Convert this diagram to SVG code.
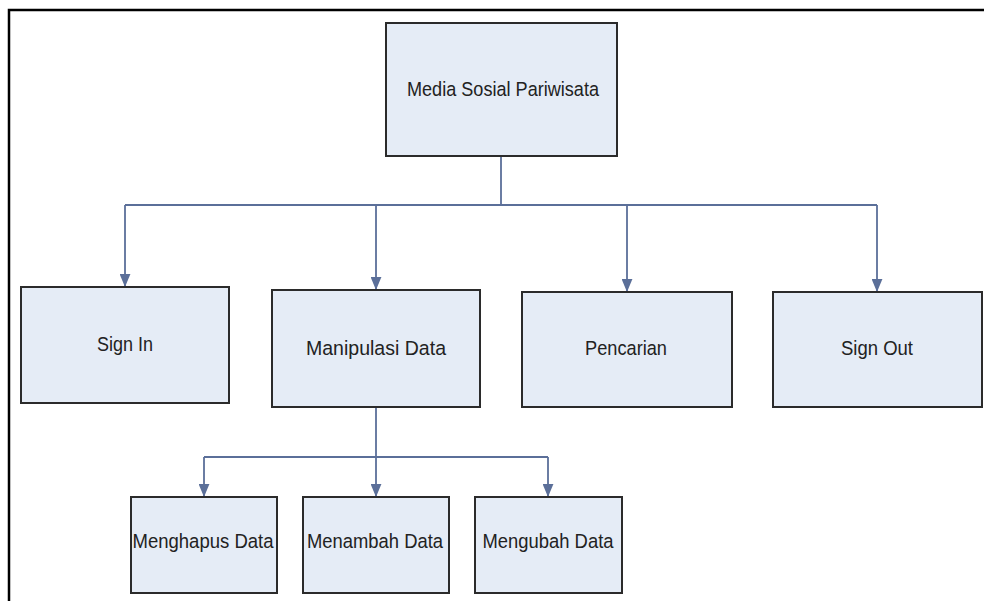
<svg xmlns="http://www.w3.org/2000/svg" width="984" height="601" viewBox="0 0 984 601">
<style>
.box{fill:#E5ECF6;stroke:#2b2b2b;stroke-width:2}
.lbl{font-family:"Liberation Sans",Arial,sans-serif;font-size:20.5px;fill:#222;text-anchor:middle}
.con{fill:none;stroke:#5B6F99;stroke-width:1.8}
</style>
<defs>
<marker id="arr" viewBox="0 0 10 12" refX="5" refY="12" markerWidth="11" markerHeight="13" orient="0" markerUnits="userSpaceOnUse">
<path d="M0,0 L10,0 L5,12 z" fill="#5B6F99"/>
</marker>
</defs>
<rect width="984" height="601" fill="#fff"/>
<path d="M9,601 V10 H984" fill="none" stroke="#000" stroke-width="2.5"/>
<g id="connectors">
<path class="con" d="M501,156 V205"/>
<path class="con" d="M125,205 H877"/>
<path class="con" d="M125,205 V287" marker-end="url(#arr)"/>
<path class="con" d="M376,205 V290" marker-end="url(#arr)"/>
<path class="con" d="M627,205 V292" marker-end="url(#arr)"/>
<path class="con" d="M877,205 V292" marker-end="url(#arr)"/>
<path class="con" d="M376,407 V457"/>
<path class="con" d="M204,457 H548"/>
<path class="con" d="M204,457 V497" marker-end="url(#arr)"/>
<path class="con" d="M376,457 V497" marker-end="url(#arr)"/>
<path class="con" d="M548,457 V497" marker-end="url(#arr)"/>
</g>
<g id="root">
<rect class="box" x="386" y="23" width="231" height="133"/>
<text class="lbl" x="503" y="96" textLength="192" lengthAdjust="spacingAndGlyphs">Media Sosial Pariwisata</text>
</g>
<g id="signin">
<rect class="box" x="21" y="287" width="208" height="116"/>
<text class="lbl" x="125" y="351" textLength="56" lengthAdjust="spacingAndGlyphs">Sign In</text>
</g>
<g id="manipulasi">
<rect class="box" x="272" y="290" width="208" height="117"/>
<text class="lbl" x="376" y="355" textLength="140" lengthAdjust="spacingAndGlyphs">Manipulasi Data</text>
</g>
<g id="pencarian">
<rect class="box" x="522" y="292" width="210" height="115"/>
<text class="lbl" x="626" y="355" textLength="82" lengthAdjust="spacingAndGlyphs">Pencarian</text>
</g>
<g id="signout">
<rect class="box" x="773" y="292" width="209" height="115"/>
<text class="lbl" x="877" y="355" textLength="72" lengthAdjust="spacingAndGlyphs">Sign Out</text>
</g>
<g id="menghapus">
<rect class="box" x="131" y="497" width="146" height="96"/>
<text class="lbl" x="203" y="548" textLength="141" lengthAdjust="spacingAndGlyphs">Menghapus Data</text>
</g>
<g id="menambah">
<rect class="box" x="303" y="497" width="146" height="96"/>
<text class="lbl" x="375" y="548" textLength="136" lengthAdjust="spacingAndGlyphs">Menambah Data</text>
</g>
<g id="mengubah">
<rect class="box" x="475" y="497" width="147" height="96"/>
<text class="lbl" x="548" y="548" textLength="131" lengthAdjust="spacingAndGlyphs">Mengubah Data</text>
</g>
</svg>
